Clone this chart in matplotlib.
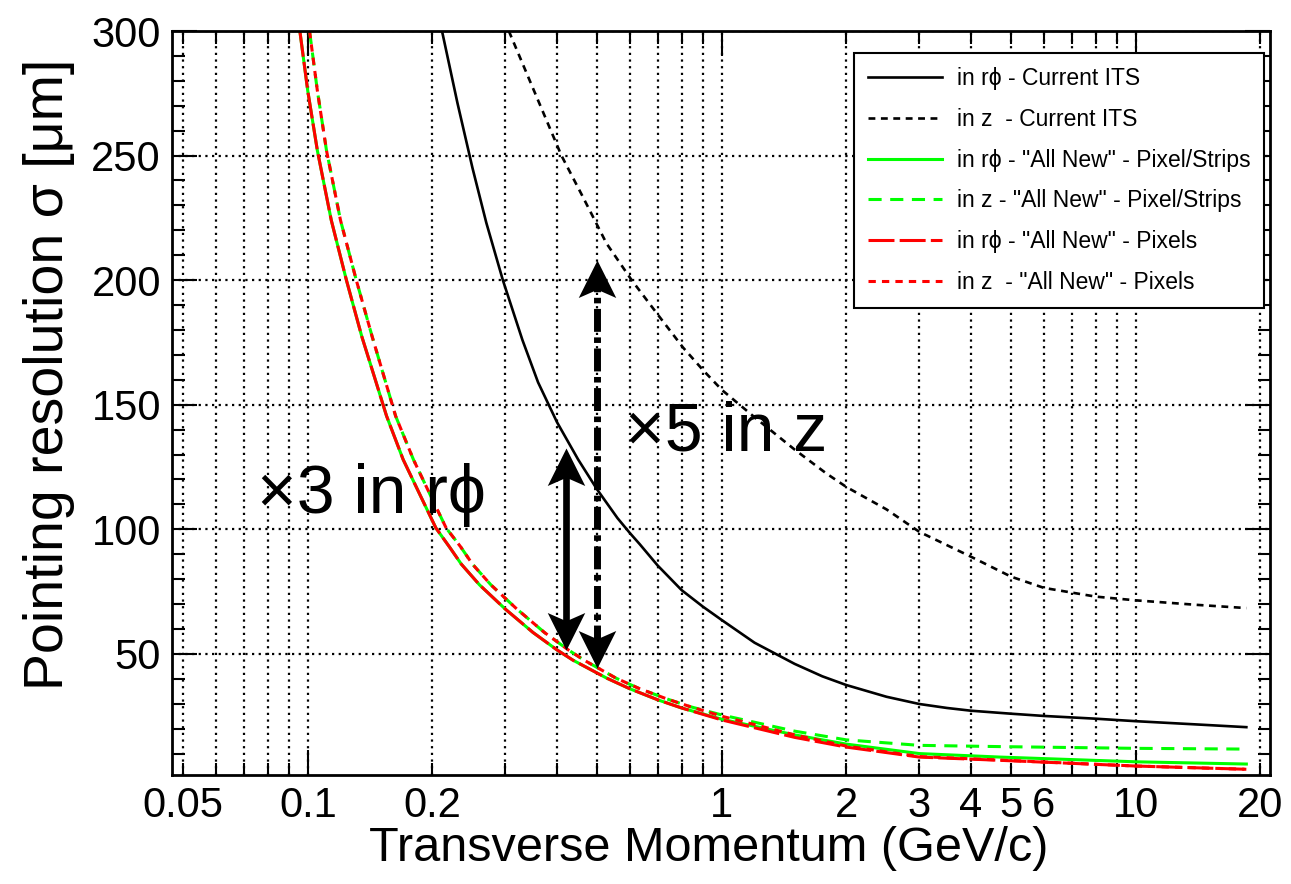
import numpy as np
import matplotlib.pyplot as plt
from matplotlib.lines import Line2D
from matplotlib.path import Path

plt.rcParams['font.family'] = ['Liberation Sans', 'DejaVu Sans']

# values
pt_rphi_its = [0.211, 0.23, 0.25, 0.27, 0.296, 0.33, 0.36, 0.4, 0.45, 0.5, 0.56, 0.6, 0.634, 0.7,
               0.8, 0.9, 1.0, 1.2, 1.5, 1.75, 2, 2.5, 3, 3.5, 4, 5, 6, 8, 10, 14, 18.5]
sig_rphi_its = [300, 271, 245, 223, 200, 176, 159, 143, 128, 116, 104.5, 98.5, 94, 85.5,
                75.6, 69, 63.6, 54.5, 46, 41, 37.5, 32.8, 29.9, 28.3, 27.2, 26, 25.1, 24, 23, 21.7, 20.6]

pt_z_its = [0.306, 0.35, 0.41, 0.46, 0.527, 0.606, 0.702, 0.806, 0.9, 1.0, 1.2, 1.5, 1.79,
            2, 2.5, 3, 4, 5, 6, 8, 10, 14, 18.5]
sig_z_its = [300, 277, 250, 234, 214.7, 200, 186, 173, 164, 156, 145, 132, 122.4,
             117, 108, 99, 89, 81, 76.5, 73, 71.5, 69.7, 68.4]

pt_rphi_ps = [0.0957, 0.1, 0.1055, 0.114, 0.124, 0.135, 0.145, 0.155, 0.17, 0.189, 0.204, 0.22,
              0.235, 0.26, 0.30, 0.35, 0.4, 0.437, 0.527, 0.6, 0.7, 0.8, 1, 1.5, 2, 3, 4.69, 10, 18.5]
sig_rphi_ps = [300, 276, 252, 224, 200, 177.5, 161, 145.5, 128, 112, 100.5, 92.9,
               86, 77.7, 68, 58.6, 51.6, 47.5, 40.3, 36, 31.6, 28.3, 23.8, 17.5, 13.8, 10, 8.6, 6.7, 5.8]

pt_z_ps = [0.101, 0.1055, 0.111, 0.12, 0.131, 0.143, 0.153, 0.163, 0.18, 0.2, 0.216, 0.234, 0.25,
           0.277, 0.32, 0.373, 0.426, 0.465, 0.555, 0.63, 0.735, 0.84, 1, 1.5, 2, 3, 4.69, 10, 18.5]
sig_z_ps = [300, 276, 252, 224, 200, 177.5, 161, 145.5, 128, 112, 100.5, 93, 86,
            77.7, 68, 58.6, 51.6, 47.5, 40.3, 36.2, 32, 28.8, 25.5, 19, 15.5, 13.3, 12.8, 12.1, 11.8]

pt_rphi_px = pt_rphi_ps
sig_rphi_px = [300, 276, 252, 224, 200, 177.5, 161, 145.5, 128, 112, 100.5, 92.9,
               86, 77.7, 68, 58.6, 51.6, 47.5, 40.3, 36, 31.6, 28.3, 23.5, 16.5, 12.6, 8.6, 7.3, 5.0, 3.7]

pt_z_px = pt_z_ps
sig_z_px = [300, 276, 252, 224, 200, 177.5, 161, 145.5, 128, 112, 100.5, 93, 86,
            77.7, 68, 58.6, 51.6, 47.5, 40.3, 36.2, 32, 28.8, 25, 17.5, 13, 8.8, 7.4, 5.0, 3.7]

xmaj = [0.1, 1, 10]
xmin = [0.05, 0.06, 0.07, 0.08, 0.09, 0.2, 0.3, 0.4, 0.5, 0.6, 0.7, 0.8, 0.9,
        2, 3, 4, 5, 6, 7, 8, 9, 20]
xmin_labels = ['0.05', '', '', '', '', '0.2', '', '', '', '', '', '', '',
               '2', '3', '4', '5', '6', '', '', '', '20']
yticks = [50, 100, 150, 200, 250, 300]

labels = ['in r\u03d5 - Current ITS',
          'in z  - Current ITS',
          'in r\u03d5 - "All New" - Pixel/Strips',
          'in z - "All New" - Pixel/Strips',
          'in r\u03d5 - "All New" - Pixels',
          'in z  - "All New" - Pixels']

# arrow positions (pt, sigma of the two tips)
arrow_rphi = (0.42, 51.5, 132.6)
arrow_z = (0.5, 44.3, 208)

fig = plt.figure(figsize=(12.91, 8.84), dpi=100)
ax = fig.add_axes([0.13323, 0.12330, 0.85050, 0.84163])

grn = '#00ff00'
red = '#ff0000'
st_green_solid = dict(color=grn, lw=2.2, ls='-')
st_green_dash = dict(color=grn, lw=2.2, dashes=(4.3, 2.8))
st_red_long = dict(color=red, lw=2.2, dashes=(8.5, 1.7))
st_red_short = dict(color=red, lw=2.2, dashes=(2.4, 2))
st_black = dict(color='k', lw=1.9, ls='-')
st_black_dash = dict(color='k', lw=1.9, dashes=(2.6, 2.1))

ax.plot(pt_rphi_ps, sig_rphi_ps, **st_green_solid)
ax.plot(pt_z_ps, sig_z_ps, **st_green_dash)
ax.plot(pt_rphi_px, sig_rphi_px, **st_red_long)
ax.plot(pt_z_px, sig_z_px, **st_red_short)
ax.plot(pt_rphi_its, sig_rphi_its, **st_black)
ax.plot(pt_z_its, sig_z_its, **st_black_dash)

ax.set_xscale('log')
ax.set_xlim(0.047, 21.1)
ax.set_ylim(1.4, 300)

ax.set_xticks(xmaj)
ax.set_xticklabels(['0.1', '1', '10'])
ax.set_xticks(xmin, minor=True)
ax.set_xticklabels(xmin_labels, minor=True)
ax.set_yticks(yticks)
ax.set_yticks(np.arange(10, 300, 10), minor=True)

ax.tick_params(which='both', direction='in', top=True, right=True, labelsize=30, width=1.5)
ax.tick_params(which='major', length=18, pad=8)
ax.tick_params(which='minor', length=9, pad=8)
for sp in ax.spines.values():
    sp.set_linewidth(2)

ax.grid(axis='x', which='both', color='k', lw=1.6, ls=(0, (1, 2)))
ax.grid(axis='y', which='major', color='k', lw=1.6, ls=(0, (1, 2)))

ax.set_xlabel('Transverse Momentum (GeV/c)', fontsize=35)
ax.xaxis.set_label_coords(0.489, -0.068)
ax.set_ylabel('Pointing resolution \u03c3 [\u03bcm]', fontsize=40)
ax.yaxis.set_label_coords(-0.088, 0.538)

# notched arrow heads (tip at the origin)
head_up = Path([(0, 0), (0.5, -1), (0, -0.78), (-0.5, -1), (0, 0)],
               [Path.MOVETO, Path.LINETO, Path.LINETO, Path.LINETO, Path.CLOSEPOLY])
head_dn = Path([(0, 0), (0.5, 1), (0, 0.78), (-0.5, 1), (0, 0)],
               [Path.MOVETO, Path.LINETO, Path.LINETO, Path.LINETO, Path.CLOSEPOLY])

x, lo, hi = arrow_rphi
ax.plot([x, x], [lo + 8, hi - 8], color='k', lw=4.8, solid_capstyle='butt')
ax.plot([x], [hi], marker=head_up, ms=54, color='k', mew=0)
ax.plot([x], [lo], marker=head_dn, ms=54, color='k', mew=0)

x, lo, hi = arrow_z
ax.plot([x, x], [lo + 8, hi - 8], color='k', lw=5, dashes=(3.3, 0.8, 0.8, 0.8))
ax.plot([x], [hi], marker=head_up, ms=54, color='k', mew=0)
ax.plot([x], [lo], marker=head_dn, ms=54, color='k', mew=0)

ax.text(0.0756, 113.7, '\u00d73 in r\u03d5', fontsize=49, va='center', ha='left')
ax.text(0.583, 139, '\u00d75 in z', fontsize=49, va='center', ha='left')

handles = [Line2D([], [], **st_black), Line2D([], [], **st_black_dash),
           Line2D([], [], **st_green_solid), Line2D([], [], **st_green_dash),
           Line2D([], [], **st_red_long), Line2D([], [], **st_red_short)]
leg = ax.legend(handles, labels, loc='upper right', bbox_to_anchor=(0.9945, 0.9704),
                borderaxespad=0, fontsize=16.5, handlelength=3.23, handletextpad=0.65,
                labelspacing=0.78, borderpad=0.6, fancybox=False, edgecolor='k',
                framealpha=1)
leg.get_frame().set_linewidth(1.5)

fig.savefig('out.png', dpi=100)
